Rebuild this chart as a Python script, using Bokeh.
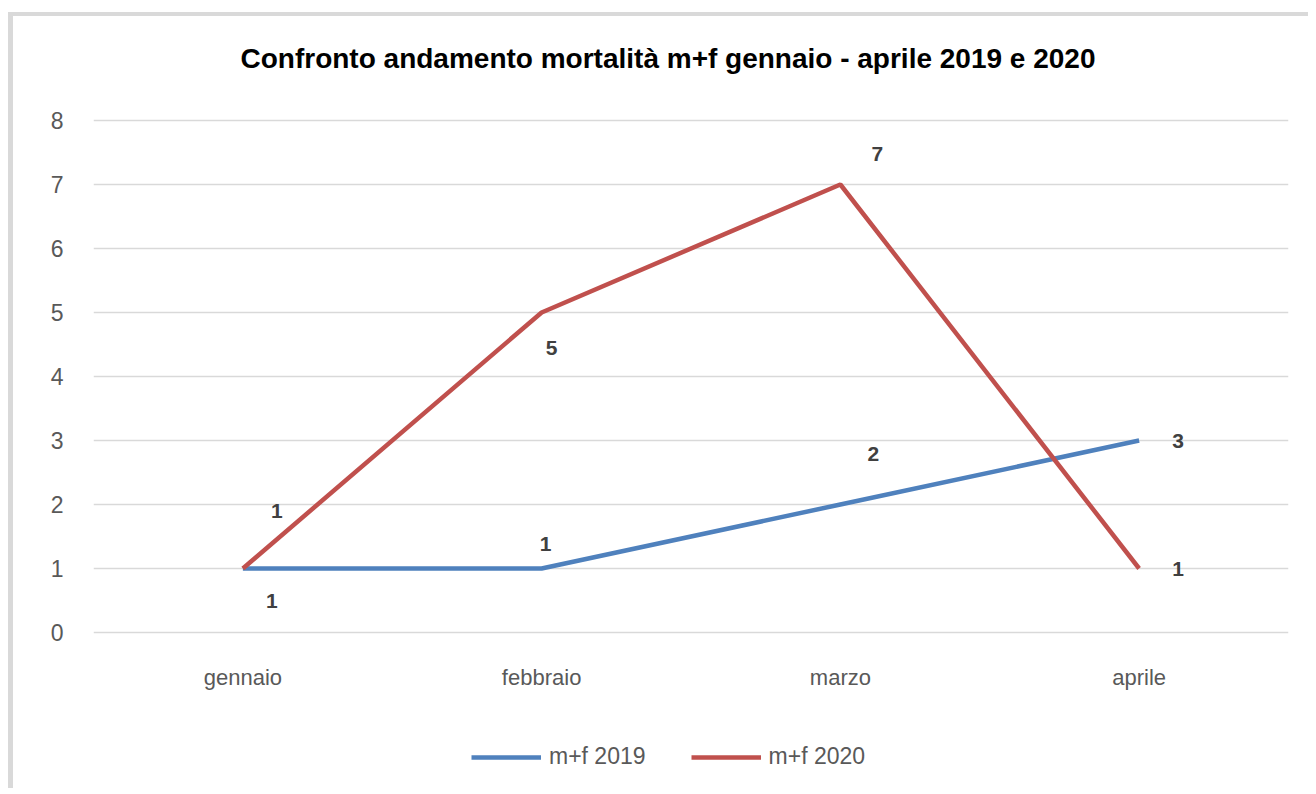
from bokeh.plotting import figure
from bokeh.models import ColumnDataSource, Legend, LegendItem, FixedTicker
from bokeh.core.properties import value
from bokeh.embed import file_html
from bokeh.resources import INLINE

# ---- data ----
months = ["gennaio", "febbraio", "marzo", "aprile"]
mf_2019 = [1, 1, 2, 3]
mf_2020 = [1, 5, 7, 1]
y_ticks = [0, 1, 2, 3, 4, 5, 6, 7, 8]
title_text = "Confronto andamento mortalità m+f gennaio - aprile 2019 e 2020"
series_names = ["m+f 2019", "m+f 2020"]

# ---- label placement (screen px offsets, layout only) ----
off_2019 = [(29, 32), (4, -25), (33, -51), (39, 0)]
off_2020 = [(34, -58), (10, 35), (37, -31), (39, 0)]
cat_label_offset = 45

BLUE = "#4f81bd"
RED = "#c0504d"
FONT = "Liberation Sans"

# the frame extends beyond 0..8 so that title, category labels and legend live inside it
p = figure(x_range=months, y_range=(-2.5, 9.625), width=1300, height=776,
           output_backend="svg", toolbar_location=None,
           min_border_left=80, min_border_right=25,
           min_border_top=0, min_border_bottom=0)
p.styles = {"border-left": "5px solid #d9d9d9", "border-top": "4px solid #d9d9d9",
            "margin-top": "12px", "margin-left": "8px"}

p.outline_line_color = None
p.background_fill_color = "white"
p.border_fill_color = "white"

p.xgrid.grid_line_color = None
p.ygrid.grid_line_color = "#d9d9d9"
p.ygrid.grid_line_width = 1.5

p.xaxis.visible = False
p.yaxis.ticker = FixedTicker(ticks=y_ticks)
ax = p.yaxis[0]
ax.axis_line_color = None
ax.major_tick_line_color = None
ax.minor_tick_line_color = None
ax.major_tick_out = 0
ax.major_tick_in = 0
ax.major_label_text_font = FONT
ax.major_label_text_font_size = "23px"
ax.major_label_text_color = "#595959"
ax.major_label_standoff = 30

# chart title, centred over the chart area just above the top gridline
p.text(x=[len(months) / 2], y=[max(y_ticks)], text=[title_text],
       x_offset=-23, y_offset=-62,
       text_font=value(FONT), text_font_size="28px", text_font_style="bold",
       text_color="#000000", text_align="center", text_baseline="middle")

r19 = p.line(months, mf_2019, line_color=BLUE, line_width=4.5)
r20 = p.line(months, mf_2020, line_color=RED, line_width=4.5)

# category labels (x axis)
p.text(x=months, y=[0] * len(months), text=months, y_offset=cat_label_offset,
       text_font=value(FONT), text_font_size="22px", text_color="#595959",
       text_align="center", text_baseline="middle")

src19 = ColumnDataSource(dict(x=months, y=mf_2019, t=[str(v) for v in mf_2019],
                              dx=[o[0] for o in off_2019], dy=[o[1] for o in off_2019]))
src20 = ColumnDataSource(dict(x=months, y=mf_2020, t=[str(v) for v in mf_2020],
                              dx=[o[0] for o in off_2020], dy=[o[1] for o in off_2020]))
for src in (src19, src20):
    p.text(x="x", y="y", text="t", x_offset="dx", y_offset="dy", source=src,
           text_font=value(FONT), text_font_size="21px", text_font_style="bold",
           text_color="#404040", text_align="center", text_baseline="middle")

legend = Legend(items=[LegendItem(label=series_names[0], renderers=[r19]),
                       LegendItem(label=series_names[1], renderers=[r20])],
                orientation="horizontal", location=(378, 22))
legend.border_line_alpha = 0
legend.background_fill_alpha = 0
legend.label_text_font = FONT
legend.label_text_font_size = "23px"
legend.label_text_color = "#595959"
legend.glyph_width = 70
legend.glyph_height = 20
legend.label_standoff = 8
legend.spacing = 45
legend.margin = 0
legend.padding = 0
p.add_layout(legend, "center")

open("out.html", "w").write(file_html(p, INLINE))
